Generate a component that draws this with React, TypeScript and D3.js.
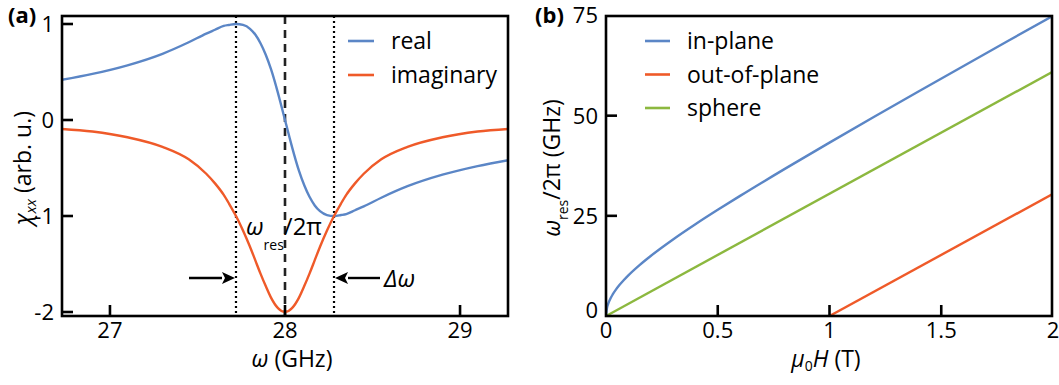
import React from "react";
import * as d3 from "d3";

const FONT = "'Open Sans', 'DejaVu Sans', sans-serif";
const BLUE = "#5b86c6";
const ORANGE = "#ef5a29";
const GREEN = "#8cb83f";

// ---- Panel (a): susceptibility around resonance ----
const omega = [
  26.7, 26.9, 27.1, 27.3, 27.45, 27.55, 27.6, 27.65, 27.68, 27.72, 27.76, 27.8, 27.83, 27.86, 27.89, 27.92, 27.96, 27.98,
  28.0,
  28.02, 28.04, 28.08, 28.11, 28.14, 28.17, 28.2, 28.24, 28.28, 28.32, 28.35, 28.4, 28.45, 28.55, 28.7, 28.9, 29.1, 29.3,
];
const chiReal = [
  0.41, 0.48, 0.57, 0.69, 0.81, 0.9, 0.94, 0.98, 0.99, 1.0, 0.99, 0.95, 0.89, 0.8, 0.68, 0.53, 0.28, 0.14,
  0,
  -0.14, -0.28, -0.53, -0.68, -0.8, -0.89, -0.95, -0.99, -1.0, -0.99, -0.98, -0.94, -0.9, -0.81, -0.69, -0.57, -0.48, -0.41,
];
const chiImag = [
  -0.09, -0.12, -0.18, -0.28, -0.41, -0.56, -0.66, -0.78, -0.87, -1.0, -1.15, -1.32, -1.46, -1.6, -1.73, -1.85, -1.96, -1.99,
  -2.0,
  -1.99, -1.96, -1.85, -1.73, -1.6, -1.46, -1.32, -1.15, -1.0, -0.87, -0.78, -0.66, -0.56, -0.41, -0.28, -0.18, -0.12, -0.09,
];
const omegaRes = 28.0;
const omegaLow = 27.72;
const omegaHigh = 28.28;
const ticksOmega = [27, 28, 29];
const ticksChi = [1, 0, -1, -2];
const legendA = ["real", "imaginary"];

// ---- Panel (b): Kittel resonance vs field ----
const fieldInPlane = [0, 0.005, 0.01, 0.02, 0.03, 0.045, 0.06, 0.08, 0.1, 0.15, 0.2, 0.3, 0.4, 0.5, 0.6, 0.8, 1.0, 1.2, 1.4, 1.6, 1.8, 2.0];
const freqInPlane = [0, 2.17, 3.08, 4.37, 5.38, 6.64, 7.72, 8.99, 10.15, 12.71, 14.99, 19.11, 22.9, 26.5, 29.98, 36.72, 43.28, 49.72, 56.09, 62.41, 68.7, 74.95];
const fieldOutOfPlane = [1, 2];
const freqOutOfPlane = [0, 30.5];
const fieldSphere = [0, 2];
const freqSphere = [0, 61];
const ticksField = [0, 0.5, 1, 1.5, 2];
const ticksFreq = [0, 25, 50, 75];
const legendB = ["in-plane", "out-of-plane", "sphere"];

const A = { left: 62, right: 508, top: 16, bottom: 316 };
const B = { left: 606, right: 1052, top: 16, bottom: 316 };

const xA = d3.scaleLinear().domain([26.726, 29.274]).range([A.left, A.right]);
const yA = d3.scaleLinear().domain([-2, 1]).range([312, 24]);
const xB = d3.scaleLinear().domain([0, 2]).range([B.left, B.right + 1]);
const yB = d3.scaleLinear().domain([0, 75]).range([B.bottom, 15.5]);

const TICK = 11;
const AXW = 2.6;
const TICK_Y = 338;
const TITLE_Y = 367;

function pts(xs: number[], ys: number[]): [number, number][] {
  return xs.map((x, i) => [x, ys[i]]);
}

function Arrow({ x1, x2, y }: { x1: number; x2: number; y: number }) {
  const dir = Math.sign(x2 - x1);
  const head = 13;
  return (
    <g>
      <line x1={x1} x2={x2 - dir * head} y1={y} y2={y} stroke="#000" strokeWidth={2.4} />
      <path d={`M${x2},${y} L${x2 - dir * head},${y - 6} L${x2 - dir * (head - 3)},${y} L${x2 - dir * head},${y + 6} Z`} fill="#000" />
    </g>
  );
}

export default function App() {
  const lineA = d3
    .line<[number, number]>()
    .x((d) => xA(d[0]))
    .y((d) => yA(d[1]))
    .curve(d3.curveMonotoneX);
  const lineB = d3
    .line<[number, number]>()
    .x((d) => xB(d[0]))
    .y((d) => yB(d[1]))
    .curve(d3.curveMonotoneX);

  const colorsA = [BLUE, ORANGE];
  const colorsB = [BLUE, ORANGE, GREEN];

  return (
    <svg
      width={1059}
      height={385}
      style={{ position: "absolute", left: 0, top: 0, background: "#fff" }}
      fontFamily={FONT}
    >
      <defs>
        <clipPath id="clipA">
          <rect x={A.left} y={A.top} width={A.right - A.left} height={A.bottom - A.top} />
        </clipPath>
        <clipPath id="clipB">
          <rect x={B.left} y={B.top - 2} width={B.right - B.left} height={B.bottom - B.top + 2} />
        </clipPath>
      </defs>

      {/* ===== Panel (a) ===== */}
      <text x={8} y={23} fontSize={22} fontWeight="bold">(a)</text>

      {/* guide lines */}
      {[omegaLow, omegaHigh].map((w) => (
        <line key={w} x1={xA(w)} x2={xA(w)} y1={A.top} y2={A.bottom} stroke="#000" strokeWidth={2.2} strokeDasharray="2 3" />
      ))}
      <line x1={xA(omegaRes)} x2={xA(omegaRes)} y1={A.top} y2={A.bottom} stroke="#222" strokeWidth={2.6} strokeDasharray="8 6" />

      <g clipPath="url(#clipA)">
        <path d={lineA(pts(omega, chiReal)) || ""} fill="none" stroke={BLUE} strokeWidth={2.4} />
        <path d={lineA(pts(omega, chiImag)) || ""} fill="none" stroke={ORANGE} strokeWidth={2.4} />
      </g>

      {/* frame */}
      <rect x={A.left} y={A.top} width={A.right - A.left} height={A.bottom - A.top} fill="none" stroke="#000" strokeWidth={AXW} />

      {ticksOmega.map((t) => (
        <g key={t}>
          <line x1={xA(t)} x2={xA(t)} y1={A.bottom} y2={A.bottom - TICK} stroke="#000" strokeWidth={AXW} />
          <text x={xA(t)} y={TICK_Y} fontSize={22} textAnchor="middle">{t}</text>
        </g>
      ))}
      {ticksChi.map((t) => (
        <g key={t}>
          <line x1={A.left} x2={A.left + TICK} y1={yA(t)} y2={yA(t)} stroke="#000" strokeWidth={AXW} />
          <text x={54} y={yA(t)} dy="0.36em" fontSize={22} textAnchor="end">{t}</text>
        </g>
      ))}

      {/* legend (a) */}
      {legendA.map((name, i) => (
        <g key={name}>
          <line x1={348} x2={374} y1={41 + i * 34} y2={41 + i * 34} stroke={colorsA[i]} strokeWidth={2.6} />
          <text x={391} y={41 + i * 34 + 8} fontSize={23}>{name}</text>
        </g>
      ))}

      {/* annotations */}
      <text x={246} y={235} fontSize={24}>
        <tspan fontStyle="italic">ω</tspan>
        <tspan fontSize={14} dy={15}>res</tspan>
        <tspan dy={-15}>/2π</tspan>
      </text>
      <Arrow x1={189} x2={xA(omegaLow) - 1} y={278} />
      <Arrow x1={380} x2={xA(omegaHigh) + 1} y={278} />
      <text x={384} y={287} fontSize={24} fontStyle="italic">Δω</text>

      {/* axis titles (a) */}
      <text x={(A.left + A.right) / 2 + 7} y={TITLE_Y} fontSize={23} textAnchor="middle">
        <tspan fontStyle="italic">ω</tspan>
        <tspan> (GHz)</tspan>
      </text>
      <text transform={`translate(31,168) rotate(-90)`} fontSize={23} textAnchor="middle">
        <tspan fontStyle="italic">χ</tspan>
        <tspan fontStyle="italic" fontSize={15} dy={5}>xx</tspan>
        <tspan dy={-5}> (arb. u.)</tspan>
      </text>

      {/* ===== Panel (b) ===== */}
      <text x={535} y={23} fontSize={22} fontWeight="bold">(b)</text>

      <g clipPath="url(#clipB)">
        <path d={lineB(pts(fieldInPlane, freqInPlane)) || ""} fill="none" stroke={BLUE} strokeWidth={2.4} />
        <path d={lineB(pts(fieldOutOfPlane, freqOutOfPlane)) || ""} fill="none" stroke={ORANGE} strokeWidth={2.4} />
        <path d={lineB(pts(fieldSphere, freqSphere)) || ""} fill="none" stroke={GREEN} strokeWidth={2.4} />
      </g>

      <rect x={B.left} y={B.top} width={B.right - B.left} height={B.bottom - B.top} fill="none" stroke="#000" strokeWidth={AXW} />

      {ticksField.map((t) => (
        <g key={t}>
          {t > 0 && t < 2 && (
            <line x1={xB(t)} x2={xB(t)} y1={B.bottom} y2={B.bottom - TICK} stroke="#000" strokeWidth={AXW} />
          )}
          <text x={xB(t)} y={TICK_Y} fontSize={22} textAnchor="middle">{t}</text>
        </g>
      ))}
      {ticksFreq.map((t) => (
        <g key={t}>
          {t > 0 && t < 75 && (
            <line x1={B.left} x2={B.left + TICK} y1={yB(t)} y2={yB(t)} stroke="#000" strokeWidth={AXW} />
          )}
          <text x={598} y={yB(t) - (t === 0 ? 6 : 0)} dy="0.36em" fontSize={22} textAnchor="end">{t}</text>
        </g>
      ))}

      {legendB.map((name, i) => (
        <g key={name}>
          <line x1={645} x2={670} y1={41 + i * 33.5} y2={41 + i * 33.5} stroke={colorsB[i]} strokeWidth={2.6} />
          <text x={687} y={41 + i * 33.5 + 8} fontSize={23}>{name}</text>
        </g>
      ))}

      <text x={826} y={TITLE_Y} fontSize={23} textAnchor="middle">
        <tspan fontStyle="italic">μ</tspan>
        <tspan fontSize={14} dy={4}>0</tspan>
        <tspan fontStyle="italic" dy={-4}>H</tspan>
        <tspan> (T)</tspan>
      </text>
      <text transform={`translate(560,168) rotate(-90)`} fontSize={23} textAnchor="middle">
        <tspan fontStyle="italic">ω</tspan>
        <tspan fontSize={14} dy={8}>res</tspan>
        <tspan dy={-8}>/2π (GHz)</tspan>
      </text>
    </svg>
  );
}
